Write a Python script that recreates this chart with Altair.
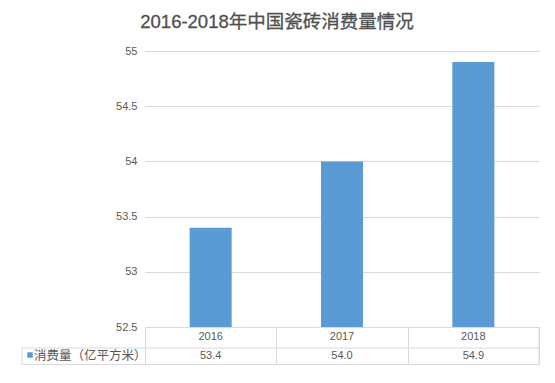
import altair as alt
import pandas as pd

title_text = "2016-2018年中国瓷砖消费量情况"
series_name = "消费量（亿平方米）"
years = ["2016", "2017", "2018"]
values = [53.4, 54.0, 54.9]
y_ticks = [52.5, 53, 53.5, 54, 54.5, 55]

FONT = "'Liberation Sans', 'Noto Sans CJK SC', sans-serif"
TXT = "#595959"
GRID = "#d9d9d9"
BAR = "#5b9bd5"

df = pd.DataFrame({"year": years, "value": values})
one = pd.DataFrame({"k": [0]})

x_enc = alt.X(
    "year:N",
    sort=years,
    scale=alt.Scale(paddingInner=0, paddingOuter=0),
    axis=alt.Axis(title=None, labels=False, tickBand="extent", tickSize=37.5,
                  tickColor=GRID, domainColor=GRID, grid=False),
)
y_enc = alt.Y(
    "value:Q",
    scale=alt.Scale(domain=[52.5, 55], zero=False, nice=False),
    axis=alt.Axis(title=None, values=y_ticks, format="~g", grid=True, gridColor=GRID,
                  domain=False, ticks=False, labelPadding=8, labelFontSize=11,
                  labelColor=TXT, labelFont=FONT),
)

bars = alt.Chart(df).mark_bar(color=BAR, width=alt.RelativeBandSize(0.32)).encode(
    x=x_enc, y=y_enc, y2=alt.datum(52.5))

year_text = alt.Chart(df).mark_text(fontSize=11, color=TXT, baseline="middle", font=FONT).encode(
    x=alt.X("year:N", sort=years), y=alt.value(286), text="year:N")
value_text = alt.Chart(df).mark_text(fontSize=11, color=TXT, baseline="middle", font=FONT).encode(
    x=alt.X("year:N", sort=years), y=alt.value(305), text=alt.Text("value:Q", format=".1f"))

h1 = alt.Chart(one).mark_rule(color=GRID).encode(x=alt.value(-123), x2=alt.value(394), y=alt.value(297))
h2 = alt.Chart(one).mark_rule(color=GRID).encode(x=alt.value(-123), x2=alt.value(394), y=alt.value(313.5))
v1 = alt.Chart(one).mark_rule(color=GRID).encode(x=alt.value(-123), y=alt.value(297), y2=alt.value(313.5))
v2 = alt.Chart(one).mark_rule(color=GRID).encode(x=alt.value(394), y=alt.value(276), y2=alt.value(313.5))

leg_sq = alt.Chart(one).mark_square(size=30, color=BAR, opacity=1).encode(
    x=alt.value(-115), y=alt.value(304))
leg_txt = alt.Chart(one).mark_text(align="left", baseline="middle", fontSize=12.5, color=TXT, font=FONT).encode(
    x=alt.value(-111), y=alt.value(305), text=alt.value(series_name))

title = alt.Chart(one).mark_text(fontSize=18.5, color="#505050", baseline="middle", font=FONT,
                                 stroke="#505050", strokeWidth=0.3).encode(
    x=alt.value(132), y=alt.value(-29), text=alt.value(title_text))

chart = alt.layer(bars, year_text, value_text, h1, h2, v1, v2, leg_sq, leg_txt, title).properties(
    width=394, height=276,
    autosize=alt.AutoSizeParams(type="none"),
    padding={"left": 137, "top": 43, "right": 8, "bottom": 48},
).configure_view(stroke=None)

chart.save("out.html", embed_options={"renderer": "svg", "actions": False})
